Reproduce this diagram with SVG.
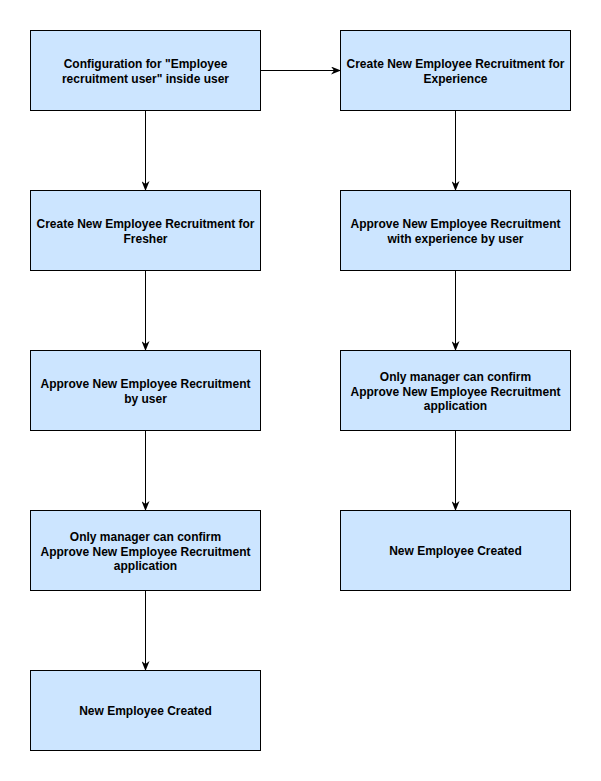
<svg xmlns="http://www.w3.org/2000/svg" width="601" height="781" viewBox="0 0 601 781">
<defs>
<style>
.box{fill:#cce5ff;stroke:#000;stroke-width:1}
.t{font-family:"Liberation Sans",Arial,sans-serif;font-size:12px;font-weight:bold;fill:#000;text-anchor:middle}
.c{stroke:#000;stroke-width:1;fill:none;marker-end:url(#arr)}
</style>
<marker id="arr" viewBox="0 0 10 8" refX="9" refY="4" markerWidth="10" markerHeight="8" markerUnits="userSpaceOnUse" orient="auto">
<path d="M0,0 L10,4 L0,8 L3,4 Z" fill="#000"/>
</marker>
</defs>
<rect width="601" height="781" fill="#fff"/>
<g id="connectors">
<path class="c" d="M260.5,70.5 H340"/>
<path class="c" d="M145.5,110.5 V190"/>
<path class="c" d="M145.5,270.5 V350"/>
<path class="c" d="M145.5,430.5 V510"/>
<path class="c" d="M145.5,590.5 V670"/>
<path class="c" d="M455.5,110.5 V190"/>
<path class="c" d="M455.5,270.5 V350"/>
<path class="c" d="M455.5,430.5 V510"/>
</g>
<g id="n1"><rect class="box" x="30.5" y="30.5" width="230" height="80"/><text class="t" x="145.5" y="68">Configuration for "Employee</text><text class="t" x="145.5" y="83">recruitment user" inside user</text></g>
<g id="n2"><rect class="box" x="30.5" y="190.5" width="230" height="80"/><text class="t" x="145.5" y="228">Create New Employee Recruitment for</text><text class="t" x="145.5" y="243">Fresher</text></g>
<g id="n3"><rect class="box" x="30.5" y="350.5" width="230" height="80"/><text class="t" x="145.5" y="388">Approve New Employee Recruitment</text><text class="t" x="145.5" y="403">by user</text></g>
<g id="n4"><rect class="box" x="30.5" y="510.5" width="230" height="80"/><text class="t" x="145.5" y="541">Only manager can confirm</text><text class="t" x="145.5" y="556">Approve New Employee Recruitment</text><text class="t" x="145.5" y="570">application</text></g>
<g id="n5"><rect class="box" x="30.5" y="670.5" width="230" height="80"/><text class="t" x="145.5" y="715">New Employee Created</text></g>
<g id="n6"><rect class="box" x="340.5" y="30.5" width="230" height="80"/><text class="t" x="455.5" y="68">Create New Employee Recruitment for</text><text class="t" x="455.5" y="83">Experience</text></g>
<g id="n7"><rect class="box" x="340.5" y="190.5" width="230" height="80"/><text class="t" x="455.5" y="228">Approve New Employee Recruitment</text><text class="t" x="455.5" y="243">with experience by user</text></g>
<g id="n8"><rect class="box" x="340.5" y="350.5" width="230" height="80"/><text class="t" x="455.5" y="381">Only manager can confirm</text><text class="t" x="455.5" y="396">Approve New Employee Recruitment</text><text class="t" x="455.5" y="410">application</text></g>
<g id="n9"><rect class="box" x="340.5" y="510.5" width="230" height="80"/><text class="t" x="455.5" y="555">New Employee Created</text></g>
</svg>
